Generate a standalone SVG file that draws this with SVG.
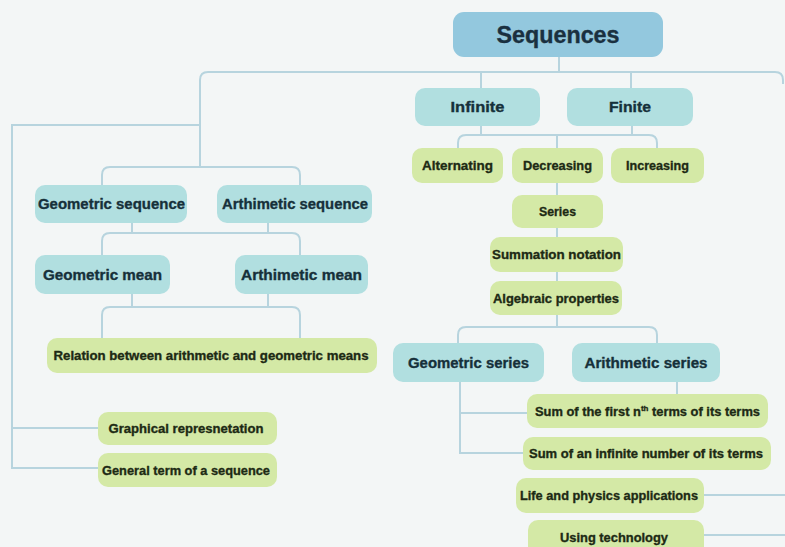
<svg xmlns="http://www.w3.org/2000/svg" width="785" height="547" viewBox="0 0 785 547">
<style>
.bg{fill:#f3f6f6}
.c{fill:none;stroke:#b7d4de;stroke-width:2;stroke-linecap:butt}
.root{fill:#93c8de}
.teal{fill:#b1dfe0}
.green{fill:#d4e9a6}
text{font-family:"Liberation Sans",Arial,sans-serif;font-weight:bold;text-anchor:middle;stroke-width:0.35;stroke-linejoin:round}
.tr{font-size:23px;fill:#1a3040;stroke:#1a3040}
.tt{font-size:15px;fill:#16303a;stroke:#16303a}
.tg{font-size:13px;fill:#1d2a14;stroke:#1d2a14}
</style>
<rect class="bg" x="0" y="0" width="785" height="547"/>
<g id="connectors">
<path class="c" d="M559 57V72"/>
<path class="c" d="M200 167V80Q200 72 208 72H775Q783 72 783 80V84"/>
<path class="c" d="M481 72V88M631 72V88"/>
<path class="c" d="M481 126V135M632 126V135"/>
<path class="c" d="M458 148V143Q458 135 466 135H649Q657 135 657 143V148M557 135V148"/>
<path class="c" d="M557 183V195M557 228V237M557 272V281M557 315V327"/>
<path class="c" d="M458 343V335Q458 327 466 327H649Q657 327 657 335V343"/>
<path class="c" d="M460 382V453H523M460 413H527"/>
<path class="c" d="M677 382V394"/>
<path class="c" d="M704 495H785M704 535H785"/>
<path class="c" d="M200 125H12V468H98M12 428H98"/>
<path class="c" d="M102 185V175Q102 167 110 167H292Q300 167 300 175V185"/>
<path class="c" d="M132 223V233M268 223V233M102 255V241Q102 233 110 233H292Q300 233 300 241V255"/>
<path class="c" d="M132 294V307M268 294V307M102 338V315Q102 307 110 307H292Q300 307 300 315V338"/>
</g>
<g id="sequences"><rect class="root" x="453" y="12" width="210" height="45" rx="11"/><text class="tr" x="558" y="42.5" textLength="123" lengthAdjust="spacingAndGlyphs">Sequences</text></g>
<g id="infinite"><rect class="teal" x="415" y="88" width="125" height="38" rx="10"/><text class="tt" x="477.5" y="112" textLength="54" lengthAdjust="spacingAndGlyphs">Infinite</text></g>
<g id="finite"><rect class="teal" x="567" y="88" width="126" height="38" rx="10"/><text class="tt" x="630" y="112" textLength="42" lengthAdjust="spacingAndGlyphs">Finite</text></g>
<g id="alternating"><rect class="green" x="412" y="148" width="91" height="35" rx="10"/><text class="tg" x="457.5" y="170" textLength="71" lengthAdjust="spacingAndGlyphs">Alternating</text></g>
<g id="decreasing"><rect class="green" x="512" y="148" width="91" height="35" rx="10"/><text class="tg" x="557.5" y="170" textLength="69" lengthAdjust="spacingAndGlyphs">Decreasing</text></g>
<g id="increasing"><rect class="green" x="611" y="148" width="93" height="35" rx="10"/><text class="tg" x="657.5" y="170" textLength="63" lengthAdjust="spacingAndGlyphs">Increasing</text></g>
<g id="series"><rect class="green" x="512" y="195" width="91" height="33" rx="10"/><text class="tg" x="557.5" y="216" textLength="37" lengthAdjust="spacingAndGlyphs">Series</text></g>
<g id="summation"><rect class="green" x="490" y="237" width="133" height="35" rx="10"/><text class="tg" x="556.5" y="259" textLength="129" lengthAdjust="spacingAndGlyphs">Summation notation</text></g>
<g id="algebraic"><rect class="green" x="490" y="281" width="132" height="34" rx="10"/><text class="tg" x="556" y="302.5" textLength="126" lengthAdjust="spacingAndGlyphs">Algebraic properties</text></g>
<g id="geometric-series"><rect class="teal" x="393" y="343" width="151" height="39" rx="10"/><text class="tt" x="468.5" y="367.5" textLength="121" lengthAdjust="spacingAndGlyphs">Geometric series</text></g>
<g id="arithmetic-series"><rect class="teal" x="572" y="343" width="148" height="39" rx="10"/><text class="tt" x="646" y="367.5" textLength="123" lengthAdjust="spacingAndGlyphs">Arithmetic series</text></g>
<g id="sum-first"><rect class="green" x="527" y="394" width="241" height="34" rx="10"/><text class="tg" x="647.5" y="415.5" textLength="225" lengthAdjust="spacingAndGlyphs">Sum of the first n<tspan font-size="8" dy="-5">th</tspan><tspan dy="5"> terms of its terms</tspan></text></g>
<g id="sum-infinite"><rect class="green" x="523" y="437" width="248" height="33" rx="10"/><text class="tg" x="646" y="458" textLength="234" lengthAdjust="spacingAndGlyphs">Sum of an infinite number of its terms</text></g>
<g id="life-physics"><rect class="green" x="516" y="478" width="188" height="35" rx="10"/><text class="tg" x="609" y="500" textLength="178" lengthAdjust="spacingAndGlyphs">Life and physics applications</text></g>
<g id="using-technology"><rect class="green" x="528" y="520" width="176" height="36" rx="10"/><text class="tg" x="614" y="542" textLength="108" lengthAdjust="spacingAndGlyphs">Using technology</text></g>
<g id="geometric-sequence"><rect class="teal" x="35" y="185" width="152" height="38" rx="10"/><text class="tt" x="111.5" y="209" textLength="147" lengthAdjust="spacingAndGlyphs">Geometric sequence</text></g>
<g id="arthimetic-sequence"><rect class="teal" x="217" y="185" width="155" height="38" rx="10"/><text class="tt" x="295" y="209" textLength="146" lengthAdjust="spacingAndGlyphs">Arthimetic sequence</text></g>
<g id="geometric-mean"><rect class="teal" x="35" y="255" width="135" height="39" rx="10"/><text class="tt" x="102.5" y="279.5" textLength="119" lengthAdjust="spacingAndGlyphs">Geometric mean</text></g>
<g id="arthimetic-mean"><rect class="teal" x="235" y="255" width="133" height="39" rx="10"/><text class="tt" x="301.5" y="279.5" textLength="121" lengthAdjust="spacingAndGlyphs">Arthimetic mean</text></g>
<g id="relation"><rect class="green" x="47" y="338" width="330" height="35" rx="10"/><text class="tg" x="211" y="360" textLength="315" lengthAdjust="spacingAndGlyphs">Relation between arithmetic and geometric means</text></g>
<g id="graphical"><rect class="green" x="98" y="412" width="179" height="33" rx="10"/><text class="tg" x="186" y="433" textLength="155" lengthAdjust="spacingAndGlyphs">Graphical represnetation</text></g>
<g id="general-term"><rect class="green" x="98" y="453" width="179" height="34" rx="10"/><text class="tg" x="186" y="474.5" textLength="168" lengthAdjust="spacingAndGlyphs">General term of a sequence</text></g>
</svg>
